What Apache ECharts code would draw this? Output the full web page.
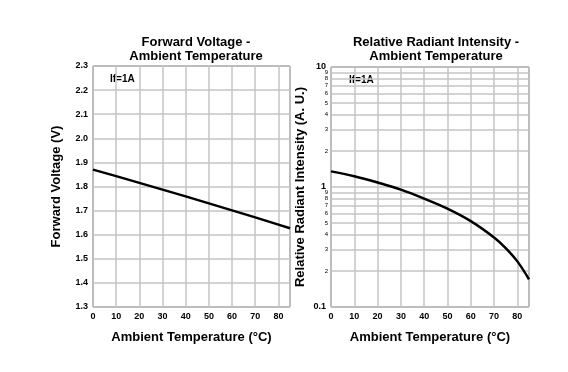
<!DOCTYPE html>
<html><head><meta charset="utf-8">
<script src="https://cdn.jsdelivr.net/npm/echarts@6/dist/echarts.min.js"></script>
<style>html,body{margin:0;padding:0;background:#fff}#c{width:568px;height:372px}</style>
</head><body><div id="c"></div>
<script>
const temps = [0, 10, 20, 30, 40, 50, 60, 70, 80, 85];
const forwardVoltage = [1.870, 1.843, 1.815, 1.787, 1.759, 1.730, 1.701, 1.672, 1.642, 1.627];
const riTemps = [0, 10, 20, 30, 40, 50, 60, 70, 75, 80, 85];
const radiantIntensity = [1.35, 1.23, 1.09, 0.95, 0.80, 0.66, 0.52, 0.38, 0.31, 0.24, 0.17];
const minorTicks = [0.2,0.3,0.4,0.5,0.6,0.7,0.8,0.9,2,3,4,5,6,7,8,9];
const xLabel = 'Ambient Temperature (°C)';
const ff = 'Liberation Sans, Arial, sans-serif';

const chart = echarts.init(document.getElementById('c'), null, {renderer:'canvas'});
const gridLine = {show:true, lineStyle:{color:'#c4c4c4', width:1.5}};
const xAxisBase = {
  type:'value', min:0, max:85, interval:10,
  name:xLabel, nameLocation:'middle', nameGap:24,
  nameTextStyle:{fontFamily:ff, fontWeight:'bold', fontSize:13, color:'#000'},
  axisLine:{show:false}, axisTick:{show:false},
  axisLabel:{fontFamily:ff, fontWeight:'bold', fontSize:9, color:'#000', margin:5, showMaxLabel:false,
    formatter:v=>(v>80?'':String(v))},
  splitLine:gridLine
};
chart.setOption({
  animation:false,
  title:[
    {text:'Forward Voltage -\nAmbient Temperature', left:191, top:30, textAlign:'center',
     textStyle:{fontFamily:ff, fontWeight:'bold', fontSize:13, color:'#000', lineHeight:14}},
    {text:'Relative Radiant Intensity -\nAmbient Temperature', left:431, top:30, textAlign:'center',
     textStyle:{fontFamily:ff, fontWeight:'bold', fontSize:13, color:'#000', lineHeight:14}}
  ],
  grid:[
    {left:93, top:66, width:197, height:241, show:true, borderColor:'#555', borderWidth:1},
    {left:331, top:67, width:198, height:240, show:true, borderColor:'#555', borderWidth:1}
  ],
  xAxis:[
    Object.assign({gridIndex:0}, xAxisBase),
    Object.assign({gridIndex:1}, xAxisBase)
  ],
  yAxis:[
    {gridIndex:0, type:'value', min:1.3, max:2.3, interval:0.1,
     name:'Forward Voltage (V)', nameLocation:'middle', nameGap:30, nameRotate:90,
     nameTextStyle:{fontFamily:ff, fontWeight:'bold', fontSize:13, color:'#000'},
     axisLine:{show:false}, axisTick:{show:false},
     axisLabel:{fontFamily:ff, fontWeight:'bold', fontSize:9, color:'#000', margin:5,
       formatter:v=>v.toFixed(1)},
     splitLine:gridLine},
    {gridIndex:1, type:'log', logBase:10, min:0.1, max:10,
     name:'Relative Radiant Intensity (A. U.)', nameLocation:'middle', nameGap:24, nameRotate:90,
     nameTextStyle:{fontFamily:ff, fontWeight:'bold', fontSize:13, color:'#000'},
     axisLine:{show:false}, axisTick:{show:false},
     axisLabel:{fontFamily:ff, fontWeight:'bold', fontSize:9, color:'#000', margin:5,
       formatter:v=>String(Math.round(v*10)/10)},
     splitLine:gridLine}
  ],
  graphic:[
    {type:'text', left:110, top:74, style:{text:'If=1A', fontFamily:ff, fontWeight:'bold', fontSize:10, fill:'#000'}},
    {type:'text', left:349, top:75, style:{text:'If=1A', fontFamily:ff, fontWeight:'bold', fontSize:10, fill:'#000'}}
  ],
  series:[
    {type:'line', xAxisIndex:0, yAxisIndex:0, symbol:'none',
     data:temps.map((t,i)=>[t, forwardVoltage[i]]),
     lineStyle:{color:'#000', width:2.5}},
    {type:'line', xAxisIndex:1, yAxisIndex:1, symbol:'none', smooth:0.4,
     data:riTemps.map((t,i)=>[t, radiantIntensity[i]]),
     lineStyle:{color:'#000', width:2.5}, z:5,
     markLine:{silent:true, symbol:'none', animation:false,
       lineStyle:{color:'#c4c4c4', width:1.5, type:'solid'},
       label:{show:true, position:'start', distance:3, fontFamily:ff, fontSize:6, color:'#000',
         formatter:p=>String(p.value>=1 ? p.value : Math.round(p.value*10))},
       data:minorTicks.map(v=>({yAxis:v}))}}
  ]
});
</script></body></html>
